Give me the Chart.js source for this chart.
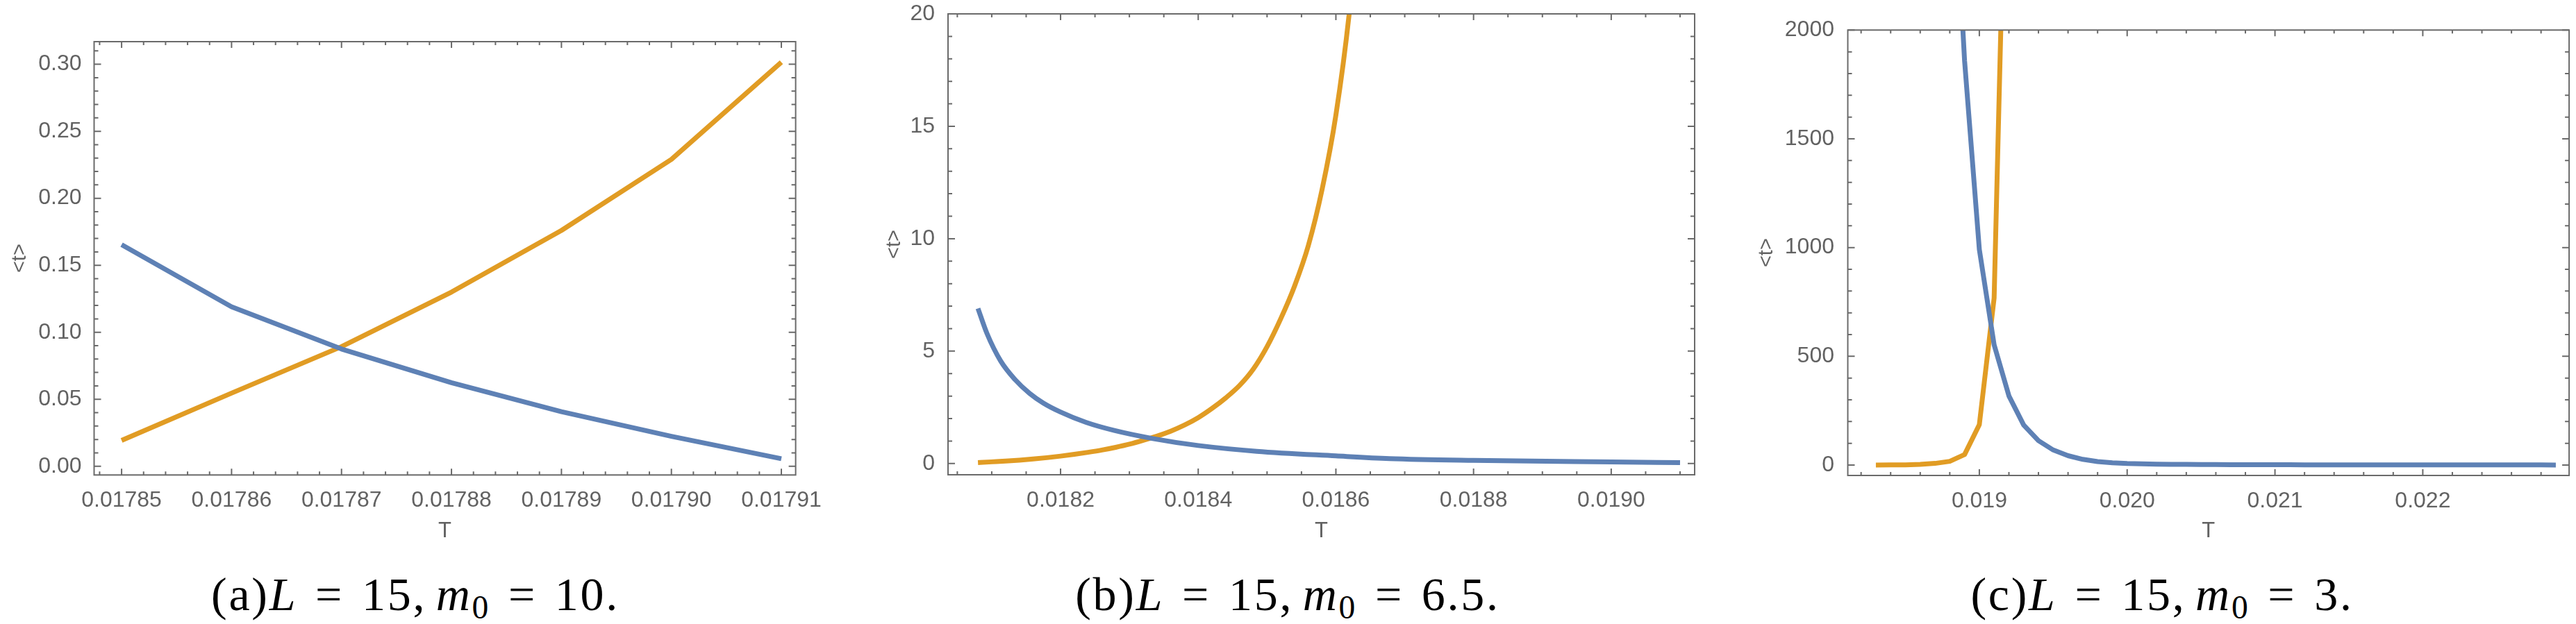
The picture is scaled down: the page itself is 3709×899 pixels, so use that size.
<!DOCTYPE html>
<html>
<head>
<meta charset="utf-8">
<script src="https://cdn.jsdelivr.net/npm/chart.js@4.4.1/dist/chart.umd.min.js"></script>
<style>
    html, body { margin: 0; padding: 0; background: #fff; }
    #page { position: relative; width: 3709px; height: 899px; background: #fff; overflow: hidden; }
    .panel { position: absolute; top: 0; height: 800px; }
    .cap {
        position: absolute; top: 816px; width: 800px; text-align: center;
        font-family: "Liberation Serif", "DejaVu Serif", serif; font-size: 68px;
        line-height: 80px; letter-spacing: 0.04em; white-space: nowrap; color: #000;
    }
    .cap i { font-style: italic; }
    .cap .eq { margin: 0 0.38em; }
    .cap .thin { display: inline-block; width: 0.2em; }
    .cap sub { font-size: 0.7em; vertical-align: baseline; position: relative; top: 0.25em; line-height: 0; }
</style>
</head>
<body>
<div id="page">
    <div class="panel" style="left:12px;width:1240px"><canvas id="chartA"></canvas></div>
    <div class="panel" style="left:1271px;width:1210px"><canvas id="chartB"></canvas></div>
    <div class="panel" style="left:2526.5px;width:1182.5px"><canvas id="chartC"></canvas></div>

    <div class="cap" style="left:198px">(a)<i>L</i><span class="eq">=</span>15,<span class="thin"></span><i>m</i><sub>0</sub><span class="eq">=</span>10.</div>
    <div class="cap" style="left:1454px">(b)<i>L</i><span class="eq">=</span>15,<span class="thin"></span><i>m</i><sub>0</sub><span class="eq">=</span>6.5.</div>
    <div class="cap" style="left:2713px">(c)<i>L</i><span class="eq">=</span>15,<span class="thin"></span><i>m</i><sub>0</sub><span class="eq">=</span>3.</div>
</div>

<script>
// ---- Données ----

// (a) L = 15, m0 = 10
const aT      = [0.01785, 0.01786, 0.01787, 0.01788, 0.01789, 0.01790, 0.01791];
const aBlue   = [0.1654, 0.1190, 0.0875, 0.0624, 0.0407, 0.0223, 0.0056];
const aOrange = [0.0193, 0.0546, 0.0893, 0.1300, 0.1760, 0.2290, 0.3015];

// (b) L = 15, m0 = 6.5
const bBlueT  = [0.01808, 0.018093, 0.018113, 0.018134, 0.018155, 0.018175, 0.0182, 0.018237,
                 0.018278, 0.018334, 0.0184, 0.018485, 0.0186, 0.018678, 0.0188, 0.0190, 0.0191];
const bBlue   = [6.90, 5.79, 4.56, 3.73, 3.12, 2.69, 2.29, 1.83,
                 1.47, 1.11, 0.80, 0.545, 0.34, 0.22, 0.14, 0.07, 0.04];
const bOrangeT = [0.01808, 0.0181, 0.01812, 0.01814, 0.01816, 0.01818, 0.0182, 0.01822,
                  0.01824, 0.01826, 0.01828, 0.0183, 0.01832, 0.01834, 0.01836, 0.01838,
                  0.0184, 0.01842, 0.01844, 0.01846, 0.01848, 0.0185, 0.01852, 0.01854,
                  0.01856, 0.01858, 0.0186, 0.01862, 0.01864];
const bOrange  = [0.04, 0.075, 0.11, 0.15, 0.20, 0.26, 0.33, 0.41,
                  0.50, 0.60, 0.72, 0.86, 1.03, 1.22, 1.44, 1.71,
                  2.04, 2.45, 2.92, 3.47, 4.20, 5.20, 6.45, 7.90,
                  9.70, 12.2, 15.5, 20.2, 27.0];

// (c) L = 15, m0 = 3
const cBlueT = [0.0188, 0.0189, 0.0190, 0.0191, 0.0192, 0.0193, 0.0194, 0.0195, 0.0196, 0.0197,
                0.0198, 0.0199, 0.0200, 0.0201, 0.0202, 0.0203, 0.0204, 0.0205, 0.0206, 0.0207,
                0.0208, 0.0209, 0.0210, 0.0211, 0.0212, 0.0213, 0.0214, 0.0215, 0.0216, 0.0217,
                0.0218, 0.0219, 0.0220, 0.0221, 0.0222, 0.0223, 0.0224, 0.0225, 0.0226, 0.0227,
                0.0228, 0.0229];
const cBlue  = [3100, 1860, 991, 553, 318, 184, 112, 69, 43, 26,
                16, 10.5, 7.0, 5.2, 4.1, 3.3, 2.8, 2.4, 2.1, 1.8,
                1.6, 1.4, 1.25, 1.12, 1.0, 0.9, 0.82, 0.75, 0.68, 0.62,
                0.57, 0.53, 0.49, 0.45, 0.42, 0.39, 0.36, 0.34, 0.32, 0.30,
                0.28, 0.26];
const cOrangeT = [0.0183, 0.0184, 0.0185, 0.0186, 0.0187, 0.0188, 0.0189, 0.0190, 0.0191, 0.0192];
const cOrange  = [0, 0.3, 1, 3, 7.5, 17, 48, 186, 768, 3500];

// Bornes des axes
const aXRange = [0.0178475, 0.0179113];
const aYRange = [-0.0065, 0.3169];
const bXRange = [0.0180365, 0.0191212];
const bYRange = [-0.5, 20];
const cXRange = [0.01811, 0.02299];
const cYRange = [-48, 2000];

// Graduations principales (étiquetées)
const aXTicks = [0.01785, 0.01786, 0.01787, 0.01788, 0.01789, 0.01790, 0.01791];
const aYTicks = [0, 0.05, 0.10, 0.15, 0.20, 0.25, 0.30];
const bXTicks = [0.0182, 0.0184, 0.0186, 0.0188, 0.0190];
const bYTicks = [0, 5, 10, 15, 20];
const cXTicks = [0.019, 0.020, 0.021, 0.022];
const cYTicks = [0, 500, 1000, 1500, 2000];

// ---- Styles (couleurs Mathematica par défaut) ----
const BLUE = '#5e81b5';
const ORANGE = '#e19c24';
const FRAME = '#6a6a6a';
const LABEL = '#626262';
const SANS = '"Liberation Sans", Arial, sans-serif';

const toPoints = (xs, ys) => xs.map((x, i) => ({ x: x, y: ys[i] }));

/**
 * Cadre + graduations internes sur les quatre côtés (style Frame -> True)
 */
const frameTicks = {
    id: 'frameTicks',
    afterDatasetsDraw(chart, args, opts) {
        const ctx = chart.ctx;
        const area = chart.chartArea;
        const xs = chart.scales.x;
        const ys = chart.scales.y;

        const minors = (scale, minor, major) => {
            const out = [];
            for (let k = Math.ceil(scale.min / minor - 1e-9); k * minor <= scale.max + 1e-12; k++) {
                const v = k * minor;
                const r = v / major;
                if (Math.abs(r - Math.round(r)) < 1e-6) continue;
                out.push(v);
            }
            return out;
        };

        ctx.save();
        ctx.strokeStyle = FRAME;
        ctx.lineWidth = 2;
        ctx.beginPath();

        const xTick = (v, len) => {
            const px = xs.getPixelForValue(v);
            ctx.moveTo(px, area.bottom); ctx.lineTo(px, area.bottom - len);
            ctx.moveTo(px, area.top); ctx.lineTo(px, area.top + len);
        };
        const yTick = (v, len) => {
            const py = ys.getPixelForValue(v);
            ctx.moveTo(area.left, py); ctx.lineTo(area.left + len, py);
            ctx.moveTo(area.right, py); ctx.lineTo(area.right - len, py);
        };

        xs.ticks.forEach(t => xTick(t.value, 9));
        ys.ticks.forEach(t => yTick(t.value, 10));
        minors(xs, opts.xMinor, opts.xMajor).forEach(v => xTick(v, 5));
        minors(ys, opts.yMinor, opts.yMajor).forEach(v => yTick(v, 6));
        ctx.stroke();

        ctx.strokeRect(area.left, area.top, area.right - area.left, area.bottom - area.top);
        ctx.restore();
    }
};

/**
 * Construit un panneau
 */
function buildPanel(canvasId, series, p) {
    const ctx = document.getElementById(canvasId).getContext('2d');

    const datasets = series.map(s => ({
        data: s.points,
        borderColor: s.color,
        backgroundColor: s.color,
        borderWidth: 7,
        pointRadius: 0,
        borderJoinStyle: 'round',
        cubicInterpolationMode: p.smooth ? 'monotone' : 'default',
        tension: 0,
        fill: false,
        clip: 0
    }));

    return new Chart(ctx, {
        type: 'line',
        data: { datasets: datasets },
        options: {
            responsive: true,
            maintainAspectRatio: false,
            animation: false,
            layout: { padding: { left: 0, right: p.padRight, top: p.frameTop, bottom: 0 } },
            plugins: {
                legend: { display: false },
                tooltip: { enabled: false },
                frameTicks: { xMajor: p.xStep, xMinor: p.xMinor, yMajor: p.yStep, yMinor: p.yMinor }
            },
            scales: {
                x: {
                    type: 'linear',
                    min: p.xRange[0],
                    max: p.xRange[1],
                    grid: { display: false },
                    border: { display: false },
                    afterBuildTicks: scale => {
                        scale.ticks = p.xTicks.map(v => ({ value: v }));
                    },
                    ticks: {
                        autoSkip: false,
                        maxRotation: 0,
                        minRotation: 0,
                        padding: 10,
                        color: LABEL,
                        font: { family: SANS, size: 32 },
                        callback: v => v.toFixed(p.xDigits)
                    },
                    title: {
                        display: true,
                        text: 'T',
                        color: LABEL,
                        font: { family: SANS, size: 31 },
                        padding: { top: 0, bottom: 16 }
                    },
                    afterFit: scale => {
                        scale.height = p.xAxisHeight;
                        scale.paddingLeft = 0;
                        scale.paddingRight = 0;
                    }
                },
                y: {
                    type: 'linear',
                    min: p.yRange[0],
                    max: p.yRange[1],
                    grid: { display: false },
                    border: { display: false },
                    afterBuildTicks: scale => {
                        scale.ticks = p.yTicks.map(v => ({ value: v }));
                    },
                    ticks: {
                        autoSkip: false,
                        padding: p.yPad,
                        color: LABEL,
                        font: { family: SANS, size: 32 },
                        callback: v => v.toFixed(p.yDigits)
                    },
                    title: {
                        display: true,
                        text: '<t>',
                        color: LABEL,
                        font: { family: SANS, size: 29 },
                        padding: { top: 0, bottom: 0 }
                    },
                    afterFit: scale => {
                        scale.width = p.yAxisWidth;
                        scale.paddingTop = 0;
                        scale.paddingBottom = 0;
                    }
                }
            }
        },
        plugins: [frameTicks]
    });
}

buildPanel('chartA', [
    { points: toPoints(aT, aBlue), color: BLUE },
    { points: toPoints(aT, aOrange), color: ORANGE }
], {
    xRange: aXRange, yRange: aYRange, xTicks: aXTicks, yTicks: aYTicks,
    xStep: 0.00001, xMinor: 0.000002, xDigits: 5,
    yStep: 0.05, yMinor: 0.01, yDigits: 2,
    frameTop: 60, padRight: 106.4, yAxisWidth: 123.5, xAxisHeight: 115.7, yPad: 10,
    smooth: false
});

buildPanel('chartB', [
    { points: toPoints(bBlueT, bBlue), color: BLUE },
    { points: toPoints(bOrangeT, bOrange), color: ORANGE }
], {
    xRange: bXRange, yRange: bYRange, xTicks: bXTicks, yTicks: bYTicks,
    xStep: 0.0002, xMinor: 0.00005, xDigits: 4,
    yStep: 5, yMinor: 1, yDigits: 0,
    frameTop: 20, padRight: 41, yAxisWidth: 94, xAxisHeight: 116, yPad: 11,
    smooth: true
});

buildPanel('chartC', [
    { points: toPoints(cBlueT, cBlue), color: BLUE },
    { points: toPoints(cOrangeT, cOrange), color: ORANGE }
], {
    xRange: cXRange, yRange: cYRange, xTicks: cXTicks, yTicks: cYTicks,
    xStep: 0.001, xMinor: 0.0002, xDigits: 3,
    yStep: 500, yMinor: 100, yDigits: 0,
    frameTop: 43.3, padRight: 10.4, yAxisWidth: 133.5, xAxisHeight: 115, yPad: 11.5,
    smooth: false
});
</script>
</body>
</html>
